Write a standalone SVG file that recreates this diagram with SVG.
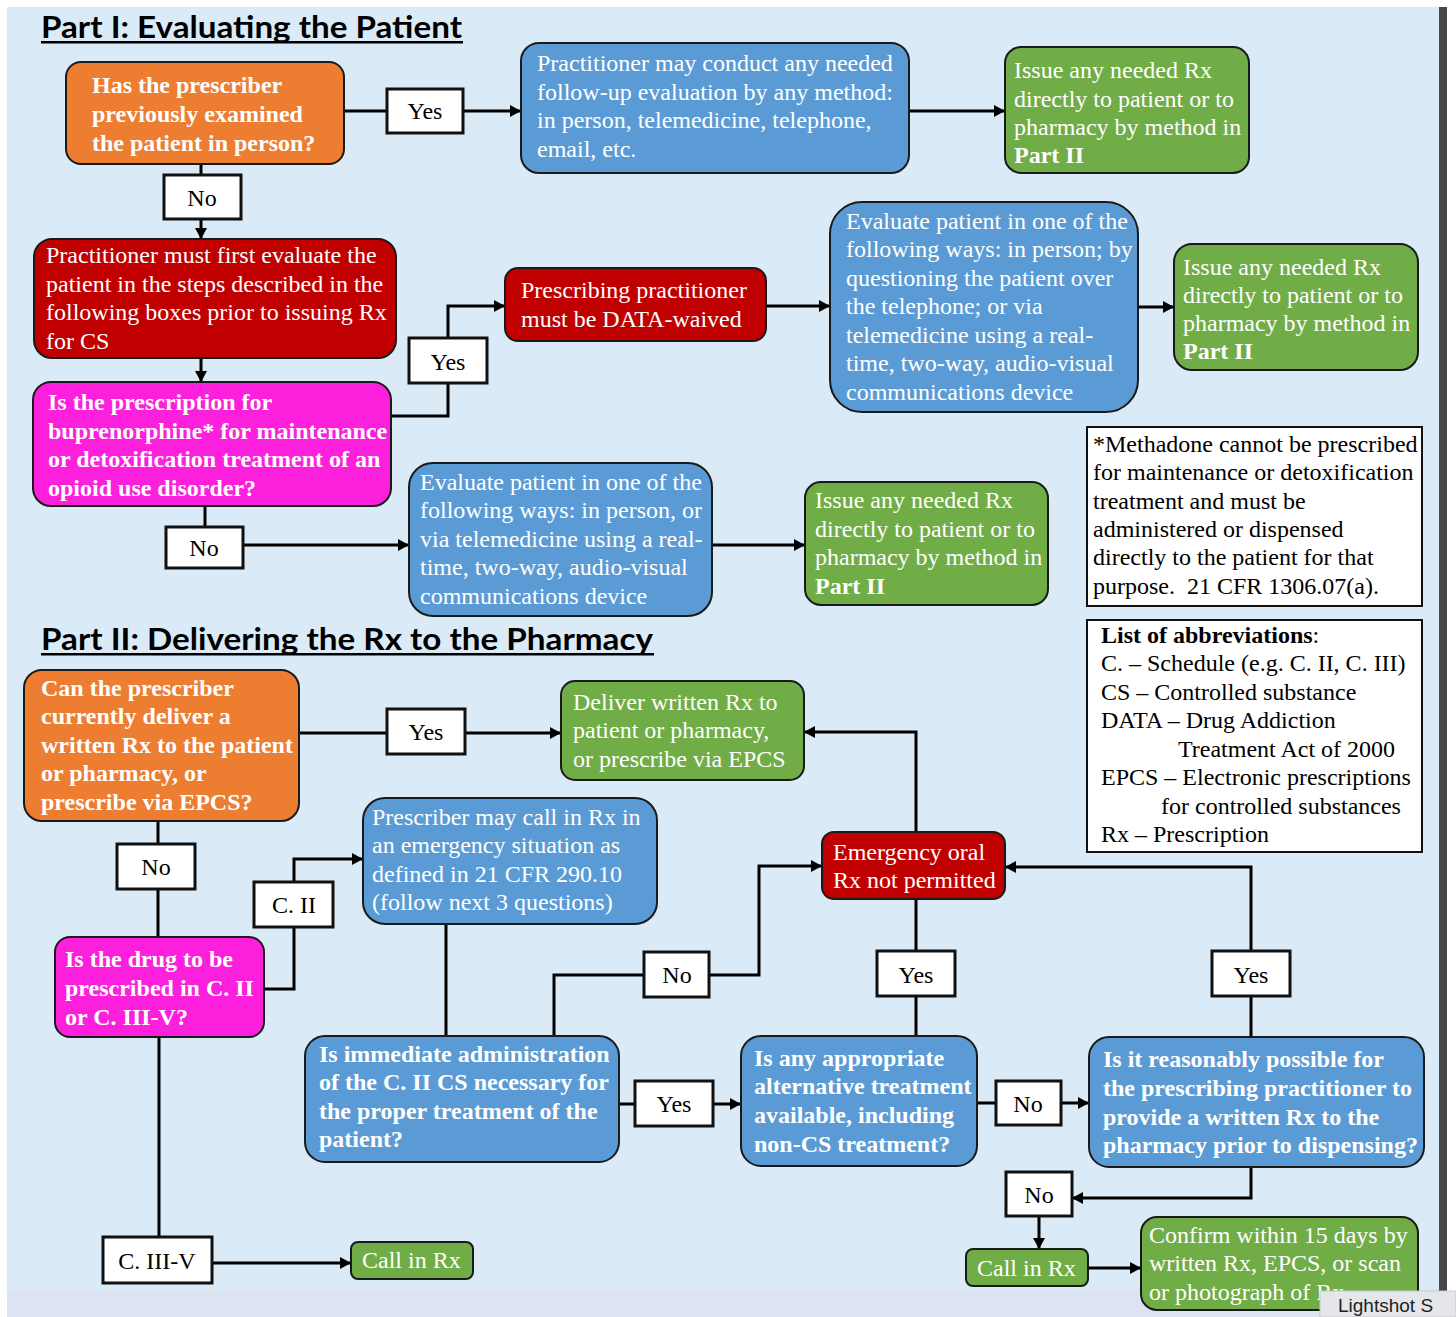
<svg xmlns="http://www.w3.org/2000/svg" width="1456" height="1317" viewBox="0 0 1456 1317">
<style>
.n{stroke:#1a1a1a;stroke-width:2}
.or{fill:#ED7D31}.bl{fill:#5B9BD5}.gr{fill:#70AD47}.rd{fill:#C00000}.mg{fill:#FC1FDB}
.lb{fill:#fff;stroke:#111;stroke-width:3}
.bx{fill:#fff;stroke:#111;stroke-width:2}
text{font-family:"Liberation Serif","Times New Roman",serif;font-size:24px}
.t{fill:#fff}
.tb{fill:#fff;font-weight:bold}
.k{fill:#000}
.lt{fill:#000;text-anchor:middle}
.ttl{font-family:Lato,"Open Sans",sans-serif;font-weight:bold;font-size:31px;fill:#000}
.c{fill:none;stroke:#000;stroke-width:3}
.ca{fill:none;stroke:#000;stroke-width:3;marker-end:url(#ah)}
</style>
<defs>
<marker id="ah" markerUnits="userSpaceOnUse" markerWidth="11" markerHeight="12" refX="11" refY="6" orient="auto">
<path d="M0,0 L11,6 L0,12 z" fill="#000"/>
</marker>
</defs>
<rect x="0" y="0" width="1456" height="1317" fill="#fff"/>
<rect x="7" y="7" width="1432" height="1283" fill="#DAEAF6"/>
<rect x="7" y="1290" width="1432" height="27" fill="#DCE4F1"/>
<rect x="1439" y="7" width="8" height="1310" fill="#45474B"/>

<g id="titles">
<text class="ttl" x="41" y="38" textLength="421" lengthAdjust="spacingAndGlyphs">Part I: Evaluating the Patient</text>
<rect x="41" y="41" width="422" height="2.5" fill="#000"/>
<text class="ttl" x="41" y="650" textLength="612" lengthAdjust="spacingAndGlyphs">Part II: Delivering the Rx to the Pharmacy</text>
<rect x="41" y="653" width="613" height="2.5" fill="#000"/>
</g>

<g id="connectors">
<line class="c" x1="344" y1="111" x2="387" y2="111"/>
<line class="ca" x1="463" y1="111" x2="521" y2="111"/>
<line class="ca" x1="909" y1="111" x2="1005" y2="111"/>
<line class="c" x1="201" y1="164" x2="201" y2="175"/>
<line class="ca" x1="201" y1="219" x2="201" y2="239"/>
<line class="ca" x1="201" y1="358" x2="201" y2="382"/>
<polyline class="c" points="391,416 448,416 448,383"/>
<polyline class="ca" points="448,338 448,306 505,306"/>
<line class="ca" x1="766" y1="306" x2="830" y2="306"/>
<line class="ca" x1="1138" y1="307" x2="1174" y2="307"/>
<line class="c" x1="205" y1="506" x2="205" y2="527"/>
<line class="ca" x1="243" y1="545" x2="409" y2="545"/>
<line class="ca" x1="712" y1="545" x2="805" y2="545"/>
<line class="c" x1="299" y1="733" x2="387" y2="733"/>
<line class="ca" x1="465" y1="733" x2="561" y2="733"/>
<line class="c" x1="158" y1="821" x2="158" y2="844"/>
<line class="c" x1="158" y1="889" x2="158" y2="937"/>
<polyline class="c" points="264,989 294,989 294,927"/>
<polyline class="ca" points="294,882 294,859 363,859"/>
<line class="c" x1="159" y1="1037" x2="159" y2="1237"/>
<line class="ca" x1="212" y1="1263" x2="351" y2="1263"/>
<line class="c" x1="446" y1="924" x2="446" y2="1036"/>
<polyline class="c" points="554,1036 554,975 644,975"/>
<polyline class="ca" points="709,975 759,975 759,866 822,866"/>
<line class="c" x1="619" y1="1104" x2="635" y2="1104"/>
<line class="ca" x1="713" y1="1104" x2="741" y2="1104"/>
<line class="c" x1="916" y1="1036" x2="916" y2="996"/>
<line class="c" x1="916" y1="951" x2="916" y2="899"/>
<polyline class="ca" points="916,832 916,732 804,732"/>
<line class="c" x1="977" y1="1103" x2="996" y2="1103"/>
<line class="ca" x1="1061" y1="1103" x2="1089" y2="1103"/>
<line class="c" x1="1251" y1="1037" x2="1251" y2="996"/>
<polyline class="ca" points="1251,951 1251,867 1005,867"/>
<polyline class="ca" points="1251,1167 1251,1198 1072,1198"/>
<line class="ca" x1="1039" y1="1216" x2="1039" y2="1249"/>
<line class="ca" x1="1088" y1="1268" x2="1141" y2="1268"/>
</g>

<g id="n1"><rect class="n or" x="66" y="62" width="278" height="102" rx="15"/>
<text class="tb" x="92" y="93">Has the prescriber</text>
<text class="tb" x="92" y="122">previously examined</text>
<text class="tb" x="92" y="151">the patient in person?</text></g>

<g id="l-yes1"><rect class="lb" x="387" y="89" width="76" height="44"/><text class="lt" x="425" y="119">Yes</text></g>

<g id="n2"><rect class="n bl" x="521" y="43" width="388" height="130" rx="18"/>
<text class="t" x="537" y="71">Practitioner may conduct any needed</text>
<text class="t" x="537" y="100">follow-up evaluation by any method:</text>
<text class="t" x="537" y="128">in person, telemedicine, telephone,</text>
<text class="t" x="537" y="157">email, etc.</text></g>

<g id="n3"><rect class="n gr" x="1005" y="47" width="244" height="126" rx="16"/>
<text class="t" x="1014" y="78">Issue any needed Rx</text>
<text class="t" x="1014" y="107">directly to patient or to</text>
<text class="t" x="1014" y="135">pharmacy by method in</text>
<text class="tb" x="1014" y="163">Part II</text></g>

<g id="l-no1"><rect class="lb" x="164" y="175" width="77" height="44"/><text class="lt" x="202" y="206">No</text></g>

<g id="n4"><rect class="n rd" x="34" y="239" width="362" height="119" rx="18"/>
<text class="t" x="46" y="263">Practitioner must first evaluate the</text>
<text class="t" x="46" y="292">patient in the steps described in the</text>
<text class="t" x="46" y="320">following boxes prior to issuing Rx</text>
<text class="t" x="46" y="349">for CS</text></g>

<g id="n5"><rect class="n mg" x="33" y="382" width="358" height="124" rx="18"/>
<text class="tb" x="48" y="410">Is the prescription for</text>
<text class="tb" x="48" y="439">buprenorphine* for maintenance</text>
<text class="tb" x="48" y="467">or detoxification treatment of an</text>
<text class="tb" x="48" y="496">opioid use disorder?</text></g>

<g id="l-yes2"><rect class="lb" x="409" y="338" width="78" height="45"/><text class="lt" x="448" y="370">Yes</text></g>

<g id="n6"><rect class="n rd" x="505" y="268" width="261" height="73" rx="13"/>
<text class="t" x="521" y="298">Prescribing practitioner</text>
<text class="t" x="521" y="327">must be DATA-waived</text></g>

<g id="n7"><rect class="n bl" x="830" y="202" width="308" height="210" rx="32"/>
<text class="t" x="846" y="229">Evaluate patient in one of the</text>
<text class="t" x="846" y="257">following ways: in person; by</text>
<text class="t" x="846" y="286">questioning the patient over</text>
<text class="t" x="846" y="314">the telephone; or via</text>
<text class="t" x="846" y="343">telemedicine using a real-</text>
<text class="t" x="846" y="371">time, two-way, audio-visual</text>
<text class="t" x="846" y="400">communications device</text></g>

<g id="n8"><rect class="n gr" x="1174" y="244" width="244" height="126" rx="18"/>
<text class="t" x="1183" y="275">Issue any needed Rx</text>
<text class="t" x="1183" y="303">directly to patient or to</text>
<text class="t" x="1183" y="331">pharmacy by method in</text>
<text class="tb" x="1183" y="359">Part II</text></g>

<g id="l-no2"><rect class="lb" x="166" y="527" width="77" height="41"/><text class="lt" x="204" y="556">No</text></g>

<g id="n9"><rect class="n bl" x="409" y="463" width="303" height="153" rx="24"/>
<text class="t" x="420" y="490">Evaluate patient in one of the</text>
<text class="t" x="420" y="518">following ways: in person, or</text>
<text class="t" x="420" y="547">via telemedicine using a real-</text>
<text class="t" x="420" y="575">time, two-way, audio-visual</text>
<text class="t" x="420" y="604">communications device</text></g>

<g id="n10"><rect class="n gr" x="805" y="482" width="243" height="123" rx="16"/>
<text class="t" x="815" y="508">Issue any needed Rx</text>
<text class="t" x="815" y="537">directly to patient or to</text>
<text class="t" x="815" y="565">pharmacy by method in</text>
<text class="tb" x="815" y="594">Part II</text></g>

<g id="footnote"><rect class="bx" x="1087" y="427" width="335" height="179"/>
<text class="k" x="1093" y="452">*Methadone cannot be prescribed</text>
<text class="k" x="1093" y="480">for maintenance or detoxification</text>
<text class="k" x="1093" y="509">treatment and must be</text>
<text class="k" x="1093" y="537">administered or dispensed</text>
<text class="k" x="1093" y="565">directly to the patient for that</text>
<text class="k" x="1093" y="594" xml:space="preserve">purpose.  21 CFR 1306.07(a).</text></g>

<g id="abbreviations"><rect class="bx" x="1087" y="620" width="335" height="232"/>
<text class="k" x="1101" y="643"><tspan font-weight="bold">List of abbreviations</tspan>:</text>
<text class="k" x="1101" y="671">C. – Schedule (e.g. C. II, C. III)</text>
<text class="k" x="1101" y="700">CS – Controlled substance</text>
<text class="k" x="1101" y="728">DATA – Drug Addiction</text>
<text class="k" x="1178" y="757">Treatment Act of 2000</text>
<text class="k" x="1101" y="785">EPCS – Electronic prescriptions</text>
<text class="k" x="1161" y="814">for controlled substances</text>
<text class="k" x="1101" y="842">Rx – Prescription</text></g>

<g id="n11"><rect class="n or" x="24" y="670" width="275" height="151" rx="18"/>
<text class="tb" x="41" y="696">Can the prescriber</text>
<text class="tb" x="41" y="724">currently deliver a</text>
<text class="tb" x="41" y="753">written Rx to the patient</text>
<text class="tb" x="41" y="781">or pharmacy, or</text>
<text class="tb" x="41" y="810">prescribe via EPCS?</text></g>

<g id="l-yes3"><rect class="lb" x="387" y="709" width="78" height="45"/><text class="lt" x="426" y="740">Yes</text></g>

<g id="n12"><rect class="n gr" x="561" y="681" width="243" height="99" rx="14"/>
<text class="t" x="573" y="710">Deliver written Rx to</text>
<text class="t" x="573" y="738">patient or pharmacy,</text>
<text class="t" x="573" y="767">or prescribe via EPCS</text></g>

<g id="l-no3"><rect class="lb" x="117" y="844" width="78" height="45"/><text class="lt" x="156" y="875">No</text></g>

<g id="n13"><rect class="n mg" x="55" y="937" width="209" height="100" rx="15"/>
<text class="tb" x="65" y="967">Is the drug to be</text>
<text class="tb" x="65" y="996">prescribed in C. II</text>
<text class="tb" x="65" y="1025">or C. III-V?</text></g>

<g id="l-c2"><rect class="lb" x="254" y="882" width="79" height="45"/><text class="lt" x="294" y="913">C. II</text></g>

<g id="n14"><rect class="n bl" x="363" y="798" width="294" height="126" rx="22"/>
<text class="t" x="372" y="825">Prescriber may call in Rx in</text>
<text class="t" x="372" y="853">an emergency situation as</text>
<text class="t" x="372" y="882">defined in 21 CFR 290.10</text>
<text class="t" x="372" y="910">(follow next 3 questions)</text></g>

<g id="n16"><rect class="n rd" x="822" y="832" width="183" height="67" rx="12"/>
<text class="t" x="833" y="860">Emergency oral</text>
<text class="t" x="833" y="888">Rx not permitted</text></g>

<g id="l-no4"><rect class="lb" x="644" y="952" width="65" height="45"/><text class="lt" x="677" y="983">No</text></g>
<g id="l-yes4"><rect class="lb" x="877" y="951" width="78" height="45"/><text class="lt" x="916" y="983">Yes</text></g>
<g id="l-yes6"><rect class="lb" x="1212" y="951" width="78" height="45"/><text class="lt" x="1251" y="983">Yes</text></g>

<g id="n15"><rect class="n bl" x="305" y="1036" width="314" height="126" rx="20"/>
<text class="tb" x="319" y="1062">Is immediate administration</text>
<text class="tb" x="319" y="1090">of the C. II CS necessary for</text>
<text class="tb" x="319" y="1119">the proper treatment of the</text>
<text class="tb" x="319" y="1147">patient?</text></g>

<g id="l-yes5"><rect class="lb" x="635" y="1081" width="78" height="45"/><text class="lt" x="674" y="1112">Yes</text></g>

<g id="n17"><rect class="n bl" x="741" y="1036" width="236" height="130" rx="20"/>
<text class="tb" x="754" y="1066">Is any appropriate</text>
<text class="tb" x="754" y="1094">alternative treatment</text>
<text class="tb" x="754" y="1123">available, including</text>
<text class="tb" x="754" y="1152">non-CS treatment?</text></g>

<g id="l-no5"><rect class="lb" x="996" y="1081" width="65" height="44"/><text class="lt" x="1028" y="1112">No</text></g>

<g id="n18"><rect class="n bl" x="1089" y="1037" width="335" height="130" rx="20"/>
<text class="tb" x="1103" y="1067">Is it reasonably possible for</text>
<text class="tb" x="1103" y="1096">the prescribing practitioner to</text>
<text class="tb" x="1103" y="1125">provide a written Rx to the</text>
<text class="tb" x="1103" y="1153">pharmacy prior to dispensing?</text></g>

<g id="l-no6"><rect class="lb" x="1006" y="1172" width="66" height="44"/><text class="lt" x="1039" y="1203">No</text></g>

<g id="l-c3"><rect class="lb" x="103" y="1237" width="109" height="46"/><text class="lt" x="157" y="1269">C. III-V</text></g>

<g id="call1"><rect class="n gr" x="351" y="1242" width="122" height="37" rx="7"/>
<text class="t" x="362" y="1268">Call in Rx</text></g>

<g id="call2"><rect class="n gr" x="966" y="1249" width="122" height="37" rx="7"/>
<text class="t" x="977" y="1276">Call in Rx</text></g>

<g id="n19"><rect class="n gr" x="1141" y="1217" width="277" height="93" rx="16"/>
<text class="t" x="1149" y="1243">Confirm within 15 days by</text>
<text class="t" x="1149" y="1271">written Rx, EPCS, or scan</text>
<text class="t" x="1149" y="1300">or photograph of Rx</text></g>

<g id="overlay"><rect x="1320" y="1291" width="136" height="26" fill="#E4E6E9" stroke="#C8CACD" stroke-width="1"/>
<text x="1338" y="1312" style="font-family:'Liberation Sans',Arial,sans-serif;font-size:19px;fill:#222">Lightshot S</text></g>
</svg>
